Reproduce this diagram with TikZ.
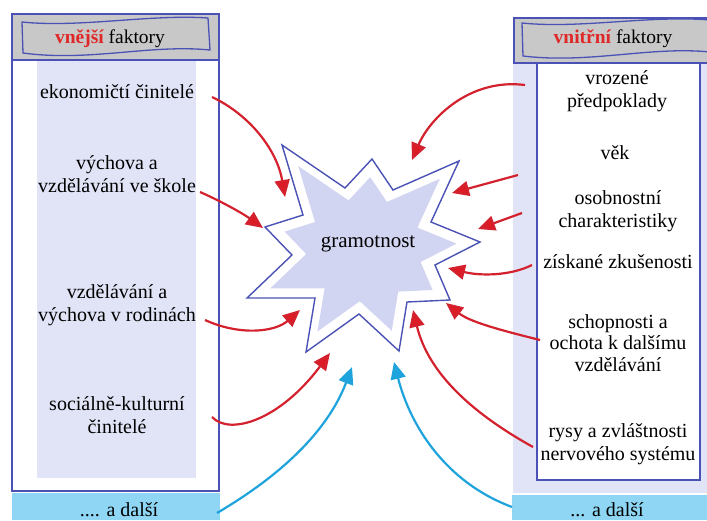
\documentclass[tikz,border=0pt]{standalone}
\usepackage{fontspec}
\setmainfont{Liberation Serif}
\usetikzlibrary{arrows.meta}
\definecolor{bordblue}{HTML}{4A52B5}
\definecolor{lav}{HTML}{E1E4F6}
\definecolor{starfill}{HTML}{D2D5F2}
\definecolor{bannergray}{HTML}{C8C8C8}
\definecolor{cyanbox}{HTML}{8FD6F4}
\definecolor{arrred}{HTML}{D3222E}
\definecolor{arrblue}{HTML}{1EA3DC}
\definecolor{hdrred}{HTML}{E02828}
\begin{document}
\begin{tikzpicture}[x=1pt,y=-1pt,
  lbl/.style={font=\fontsize{20}{23}\selectfont, align=center, inner sep=0pt},
  hdr/.style={font=\fontsize{19.5}{23}\selectfont, inner sep=0pt},
  redarr/.style={draw=arrred, line width=2.2pt, -{Triangle[length=17pt,width=15pt,fill=arrred!80!red]}},
  bluearr/.style={draw=arrblue, line width=2.2pt, -{Triangle[length=17pt,width=15pt]}},
  frame/.style={draw=bordblue, line width=1.4pt},
  banner/.style={draw=bordblue, line width=1.3pt}]
\useasboundingbox (0,0) rectangle (707,520);
% ---------- left panel
\fill[bannergray] (12,14) rectangle (219,60);
\draw[frame] (12,14) rectangle (219,491);
\fill[lav] (37,61) rectangle (196,478);
\draw[frame] (12,60) -- (219,60);
\draw[banner] (22,22) .. controls (80,28) and (150,14) .. (208,18) -- (210,50)
   .. controls (150,44) and (90,62) .. (23,53) -- cycle;
\fill[cyanbox] (12,493) rectangle (220,520);
% ---------- right panel
\fill[lav] (513,18) rectangle (707,493);
\fill[bannergray] (514,18) rectangle (707,63);
\draw[frame] (514,63) rectangle (712,18);
\fill[white] (537,63) rectangle (700,480);
\draw[frame] (537,63) rectangle (700,480);
\draw[banner] (522,23) .. controls (580,29) and (650,15) .. (710,20) -- (710,52)
   .. controls (650,46) and (590,64) .. (523,56) -- cycle;
\fill[cyanbox] (512,495) rectangle (707,520);
% ---------- star
\filldraw[fill=white, draw=bordblue, line width=1.4pt]
  (282,145) -- (345,188) -- (372,159) -- (393,190) -- (459,161) -- (431,222) --
  (480,242) -- (435,265) -- (450,300) -- (407,302) -- (399,351) -- (359,314) --
  (306,352) -- (315,298) -- (247,298) -- (292,255) -- (265,227) -- (303,215) -- cycle;
\fill[starfill]
  (298.2,166) -- (348.6,200.4) -- (370.2,177.2) -- (387,202) -- (439.8,178.8) -- (417.4,227.6) --
  (456.6,243.6) -- (420.6,262) -- (432.6,290) -- (398.2,291.6) -- (391.8,330.8) -- (359.8,301.2) --
  (317.4,331.6) -- (324.6,288.4) -- (270.2,288.4) -- (306.2,254) -- (284.6,231.6) -- (315,222) -- cycle;
\node[font=\fontsize{21}{24}\selectfont, inner sep=0pt] (g) at (368,244) {gramotnost};
% ---------- headers
\node[hdr] (hl) at (110,39) {\textcolor{hdrred}{\bfseries vnější} faktory};
\node[hdr] (hr) at (613,39) {\textcolor{hdrred}{\bfseries vnitřní} faktory};
% ---------- left labels
\node[lbl] (l1) at (117,92) {ekonomičtí činitelé};
\node[lbl] (l2) at (117,174) {výchova a\\vzdělávání ve škole};
\node[lbl] (l3) at (117,305) {vzdělávání a\\výchova v rodinách};
\node[lbl] (l4) at (117,415) {sociálně-kulturní\\činitelé};
\node[lbl] (l5) at (119,510) {.... a další};
% ---------- right labels
\node[lbl] (r1) at (617,91) {vrozené\\předpoklady};
\node[lbl] (r2) at (615,153) {věk};
\node[lbl] (r3) at (618,211) {osobnostní\\charakteristiky};
\node[lbl] (r4) at (618,262) {získané zkušenosti};
\node[lbl, font=\fontsize{20}{21.5}\selectfont] (r5) at (618,343) {schopnosti a\\ochota k dalšímu\\vzdělávání};
\node[lbl] (r6) at (618,444) {rysy a zvláštnosti\\nervového systému};
\node[lbl] (r7) at (607,510) {... a další};
% ---------- connector ends
\coordinate (s1) at (212,97);   \coordinate (t1) at (285,197);
\coordinate (s2) at (200,192);  \coordinate (t2) at (263,228);
\coordinate (s3) at (205,320);  \coordinate (t3) at (300,310);
\coordinate (s4) at (212,417);  \coordinate (t4) at (330,353);
\coordinate (s5) at (217,513);  \coordinate (t5) at (352,367);
\coordinate (s6) at (525,85);   \coordinate (t6) at (412,160);
\coordinate (s7) at (518,175);  \coordinate (t7) at (452,193);
\coordinate (s8) at (522,213);  \coordinate (t8) at (478,229);
\coordinate (s9) at (532,265);  \coordinate (t9) at (448,268);
\coordinate (s10) at (540,340); \coordinate (t10) at (446,303);
\coordinate (s11) at (533,447); \coordinate (t11) at (413,310);
\coordinate (s12) at (512,507); \coordinate (t12) at (394,362);
% ---------- arrows
\draw[redarr] (s1) .. controls (250,115) and (277,150) .. (t1);
\draw[redarr] (s2) .. controls (225,203) and (245,215) .. (t2);
\draw[redarr] (s3) .. controls (240,336) and (275,332) .. (t3);
\draw[redarr] (s4) .. controls (230,436) and (280,420) .. (t4);
\draw[bluearr] (s5) .. controls (290,470) and (330,425) .. (t5);
\draw[redarr] (s6) .. controls (470,78) and (430,118) .. (t6);
\draw[redarr] (s7) -- (t7);
\draw[redarr] (s8) -- (t8);
\draw[redarr] (s9) .. controls (510,276) and (480,276) .. (t9);
\draw[redarr] (s10) .. controls (500,330) and (470,322) .. (t10);
\draw[redarr] (s11) .. controls (470,412) and (428,372) .. (t11);
\draw[bluearr] (s12) .. controls (445,482) and (410,425) .. (t12);
\end{tikzpicture}
\end{document}
